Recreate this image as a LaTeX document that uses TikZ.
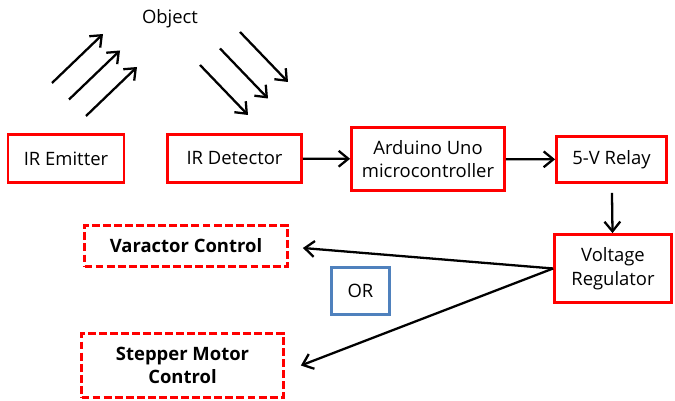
\documentclass[tikz,border=0pt]{standalone}
\usepackage{fontspec}
\setmainfont{Open Sans}
\usetikzlibrary{arrows.meta}

\begin{document}
\begin{tikzpicture}[x=0.02cm,y=-0.02cm,>={Straight Barb[length=5.5pt,width=9pt]},
  every node/.style={font=\fontsize{10.5}{13.5}\selectfont},
  block/.style={draw=red,line width=1.6pt,align=center,inner sep=0pt},
  ctrlbox/.style={block,dash pattern=on 4.5pt off 1.8pt,font=\fontsize{10.5}{13.5}\selectfont\bfseries},
  orbox/.style={draw={rgb,255:red,79;green,129;blue,189},line width=1.2pt,inner sep=0pt},
  link/.style={->,line width=1.3pt}]

\useasboundingbox (0,0) rectangle (675,401);

% sensor pair
\node[block,minimum width=2.32cm,minimum height=0.96cm] (emit) at (66,158.5) {IR Emitter};
\node[block,minimum width=2.68cm,minimum height=0.96cm] (det) at (234.5,158.5) {IR Detector};
\node (obj) at (170,19) {Object};

% rays towards and back from the object
\foreach \i in {0,1,2} {
  \coordinate (emit\i a) at (52+17*\i,83+16.5*\i);
  \coordinate (emit\i b) at (103+17*\i,34+16.5*\i);
  \draw[link] (emit\i a) -- (emit\i b);
  \coordinate (det\i a) at (240-20*\i,32+16.5*\i);
  \coordinate (det\i b) at (288-20*\i,82+16.5*\i);
  \draw[link] (det\i a) -- (det\i b);
}

% control chain
\node[block,minimum width=3.06cm,minimum height=1.26cm] (uno) at (428,159) {Arduino Uno\\microcontroller};
\node[block,minimum width=2.2cm,minimum height=0.92cm] (relay) at (611.5,159.5) {5-V Relay};
\node[block,minimum width=2.34cm,minimum height=1.36cm] (reg) at (613,268.5) {Voltage\\Regulator};

% outputs
\node[ctrlbox,minimum width=4.06cm,minimum height=0.82cm] (var) at (186,246) {Varactor Control};
\node[ctrlbox,minimum width=4.04cm,minimum height=1.28cm] (step) at (182.5,365.5) {Stepper Motor\\Control};
\node[orbox,minimum width=1.16cm,minimum height=0.94cm] (or) at (360.5,291) {OR};

\draw[link] (det) -- (uno);
\draw[link] (uno) -- (relay);
\draw[link,shorten <=0.18cm] (relay) -- (reg);
\draw[link] (reg.west) -- ([xshift=0.28cm,yshift=-0.04cm]var.east);
\draw[link] (reg.west) -- ([xshift=0.32cm]step.east);
\end{tikzpicture}
\end{document}
